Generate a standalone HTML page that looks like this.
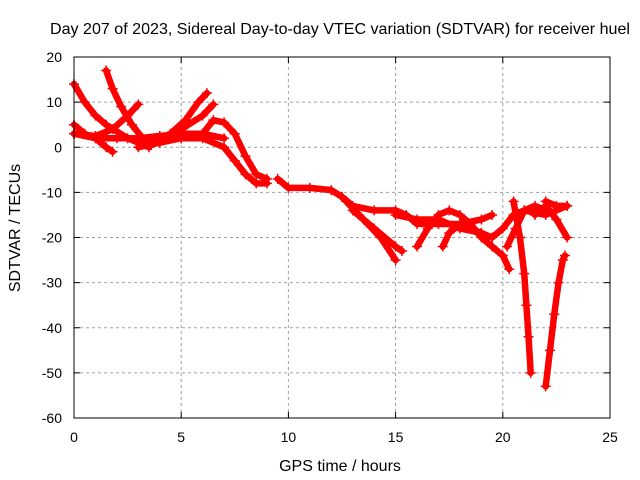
<!DOCTYPE html>
<html><head><meta charset="utf-8"><style>
body{margin:0;background:#fff}
svg{display:block;font-family:"Liberation Sans",sans-serif}
</style></head><body>
<svg id="chart" width="640" height="480">
<rect width="640" height="480" fill="#fff"/>
<g id="grid"></g>
<g id="series"></g>
<rect x="74" y="57" width="536" height="361" fill="none" stroke="#000" stroke-width="1"/>
<g id="ticks"></g>
<text x="340" y="34" text-anchor="middle" font-size="16" textLength="580" lengthAdjust="spacingAndGlyphs">Day 207 of 2023, Sidereal Day-to-day VTEC variation (SDTVAR) for receiver huel</text>
<text x="340" y="471" text-anchor="middle" font-size="16">GPS time / hours</text>
<text transform="translate(20,228) rotate(-90)" text-anchor="middle" font-size="16">SDTVAR / TECUs</text>
</svg>
<script>
const xTicks=[0,5,10,15,20,25];
const yTicks=[20,10,0,-10,-20,-30,-40,-50,-60];
const tracks=[
[[0,14],[0.5,10],[1,7],[1.5,5],[2,3.5],[2.5,2],[3,1],[3.5,0]],
[[0,5],[0.5,3],[1,2],[1.5,0],[1.8,-1]],
[[1.5,17],[1.8,13],[2.2,9],[2.7,5],[3.2,2],[3.6,0.5]],
[[0,3],[1,2.5],[1.8,4],[2.5,7],[3,9.5]],
[[0,3],[1,2],[2,2],[3,2],[4,2.5],[5,3],[6,3],[7,2]],
[[3.5,1],[4.5,3],[5.2,6],[5.8,10],[6.2,12]],
[[4,1],[5,4],[6,7],[6.5,9.5]],
[[3,0],[4,1],[5,2],[6,3],[6.5,6],[7,5.5],[7.5,3],[8,-2],[8.5,-6],[9,-7]],
[[5,2],[6,2],[7,0],[7.5,-3],[8,-6],[8.5,-8],[9,-8]],
[[9.5,-7],[10,-9],[11,-9],[12,-9.5],[12.5,-11],[13,-13],[14,-14],[15,-14],[15.5,-15],[16,-17],[17,-17],[18,-17],[19,-16],[19.5,-15]],
[[12.5,-11],[13.5,-16],[14.3,-20],[15,-25]],
[[13,-14],[14,-18],[15,-22],[15.3,-23]],
[[15,-15],[16,-16],[17,-16],[18,-18],[19,-19],[19.5,-20],[20,-18],[20.5,-15],[21,-14],[22,-15],[23,-13]],
[[16,-22],[16.5,-18],[17,-15],[17.5,-14],[18,-15],[18.5,-17],[19,-20],[19.5,-22],[20,-24],[20.3,-27]],
[[17.2,-22],[17.5,-19],[18,-17],[18.5,-18],[19,-19]],
[[20.5,-12],[20.8,-20],[21,-28],[21.1,-35],[21.2,-42],[21.3,-50]],
[[20.2,-22],[20.6,-18],[21,-14],[21.5,-13],[22,-14]],
[[22,-53],[22.2,-45],[22.4,-37],[22.6,-30],[22.8,-25],[22.9,-24]],
[[21.5,-15],[22,-13],[22.5,-16],[23,-20]],
[[22,-12],[22.5,-13],[23,-13]]
];
const NS='http://www.w3.org/2000/svg';
const X0=74,X1=610,Y0=418,Y1=57;
function sx(v){return X0+(v-0)/(25-0)*(X1-X0);}
function sy(v){return Y0-(v+60)/(80)*(Y0-Y1);}
function mk(tag,attrs,parent){const e=document.createElementNS(NS,tag);for(const k in attrs)e.setAttribute(k,attrs[k]);parent.appendChild(e);return e;}
const grid=document.getElementById('grid'),ticks=document.getElementById('ticks'),series=document.getElementById('series');
xTicks.forEach(t=>{
  const x=sx(t);
  if(t>0&&t<25){const l=mk('line',{x1:x,x2:x,y1:Y0,y2:Y1,stroke:'#a0a0a0','stroke-dasharray':'3,3'},grid);
  
  }
  mk('line',{x1:x,x2:x,y1:Y0,y2:Y0-6,stroke:'#000'},ticks);
  mk('line',{x1:x,x2:x,y1:Y1,y2:Y1+6,stroke:'#000'},ticks);
  const tx=mk('text',{x:x,y:Y0+24,'text-anchor':'middle','font-size':'14'},ticks);
  tx.textContent=t;
  
  
});
yTicks.forEach(t=>{
  const y=sy(t);
  if(t<20&&t>-60){const l=mk('line',{x1:X0,x2:X1,y1:y,y2:y,stroke:'#a0a0a0','stroke-dasharray':'3,3'},grid);
  
  }
  mk('line',{x1:X0,x2:X0+6,y1:y,y2:y,stroke:'#000'},ticks);
  mk('line',{x1:X1,x2:X1-6,y1:y,y2:y,stroke:'#000'},ticks);
  const tx=mk('text',{x:X0-12,y:y+5,'text-anchor':'end','font-size':'14'},ticks);
  tx.textContent=t;
  
  
});
tracks.forEach((tr,i)=>{
  const pts=tr.map(p=>sx(p[0])+','+sy(p[1])).join(' ');
  const pl=mk('polyline',{points:pts,fill:'none',stroke:'#f00','stroke-width':6.5,'stroke-linejoin':'round','stroke-linecap':'round'},series);
  
  
  tr.forEach(p=>{
    const x=sx(p[0]),y=sy(p[1]);
    mk('path',{d:`M${x-5},${y}H${x+5}M${x},${y-5}V${y+5}`,stroke:'#f00','stroke-width':1.5},series);
  });
});
</script>
</body></html>
